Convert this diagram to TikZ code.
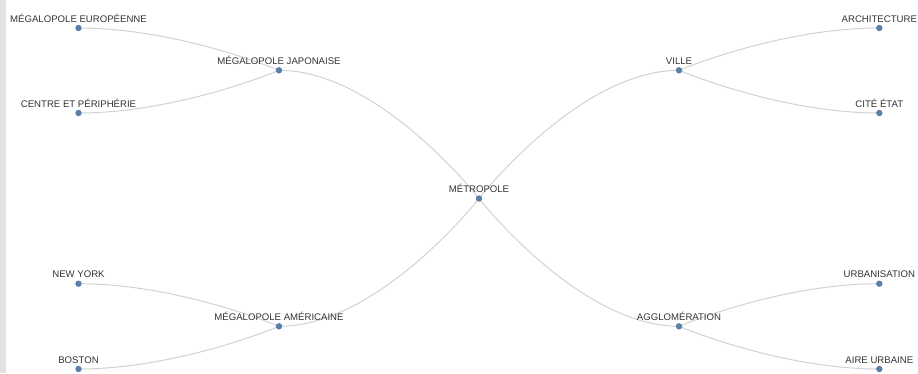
\documentclass[tikz,border=0pt]{standalone}
\usepackage{fontspec}
\setmainfont{Liberation Sans}
\usetikzlibrary{backgrounds}
\definecolor{dotc}{HTML}{5B7FA8}
\definecolor{linkc}{HTML}{D2D2D2}
\definecolor{txtc}{HTML}{333333}
\definecolor{barc}{HTML}{E2E2E2}
\begin{document}
\begin{tikzpicture}[x=1pt,y=-1pt,
  pdot/.style={circle,fill=dotc,inner sep=0pt,minimum size=6.4pt},
  lbl/.style={anchor=base,font=\fontsize{9.6}{11}\selectfont,text=txtc,inner sep=0pt},
  link/.style={draw=linkc,line width=1pt}]
\useasboundingbox (0,0) rectangle (918,373);
\fill[barc] (0,0) rectangle (6,373);
% dots
\node[pdot] (met) at (479,198.5) {};
\node[pdot] (jap) at (279,70.3) {};
\node[pdot] (ame) at (279,326.3) {};
\node[pdot] (vil) at (679,70.3) {};
\node[pdot] (agg) at (679,326.3) {};
\node[pdot] (eur) at (78.5,28) {};
\node[pdot] (cen) at (78.5,113) {};
\node[pdot] (ny) at (78.5,283.7) {};
\node[pdot] (bos) at (78.5,369) {};
\node[pdot] (arc) at (879.3,28) {};
\node[pdot] (cit) at (879.3,113) {};
\node[pdot] (urb) at (879.3,283.7) {};
\node[pdot] (air) at (879.3,369) {};
% labels
\node[lbl] (metL) at ([yshift=6pt]met.center) {MÉTROPOLE};
\node[lbl] (japL) at ([yshift=6pt]jap.center) {MÉGALOPOLE JAPONAISE};
\node[lbl] (ameL) at ([yshift=6pt]ame.center) {MÉGALOPOLE AMÉRICAINE};
\node[lbl] (vilL) at ([yshift=6pt]vil.center) {VILLE};
\node[lbl] (aggL) at ([yshift=6pt]agg.center) {AGGLOMÉRATION};
\node[lbl] (eurL) at ([yshift=6pt]eur.center) {MÉGALOPOLE EUROPÉENNE};
\node[lbl] (cenL) at ([yshift=6pt]cen.center) {CENTRE ET PÉRIPHÉRIE};
\node[lbl] (nyL) at ([yshift=6pt]ny.center) {NEW YORK};
\node[lbl] (bosL) at ([yshift=6pt]bos.center) {BOSTON};
\node[lbl] (arcL) at ([yshift=6pt]arc.center) {ARCHITECTURE};
\node[lbl] (citL) at ([yshift=6pt]cit.center) {CITÉ ÉTAT};
\node[lbl] (urbL) at ([yshift=6pt]urb.center) {URBANISATION};
\node[lbl] (airL) at ([yshift=6pt]air.center) {AIRE URBAINE};
% links
\begin{scope}[on background layer]
\draw[link] (jap.center) .. controls ([xshift=100pt]jap.center) and (met.center) .. (met.center);
\draw[link] (ame.center) .. controls ([xshift=100pt]ame.center) and (met.center) .. (met.center);
\draw[link] (vil.center) .. controls ([xshift=-100pt]vil.center) and (met.center) .. (met.center);
\draw[link] (agg.center) .. controls ([xshift=-100pt]agg.center) and (met.center) .. (met.center);
\draw[link] (eur.center) .. controls ([xshift=100pt]eur.center) and (jap.center) .. (jap.center);
\draw[link] (cen.center) .. controls ([xshift=100pt]cen.center) and (jap.center) .. (jap.center);
\draw[link] (ny.center) .. controls ([xshift=100pt]ny.center) and (ame.center) .. (ame.center);
\draw[link] (bos.center) .. controls ([xshift=100pt]bos.center) and (ame.center) .. (ame.center);
\draw[link] (arc.center) .. controls ([xshift=-100pt]arc.center) and (vil.center) .. (vil.center);
\draw[link] (cit.center) .. controls ([xshift=-100pt]cit.center) and (vil.center) .. (vil.center);
\draw[link] (urb.center) .. controls ([xshift=-100pt]urb.center) and (agg.center) .. (agg.center);
\draw[link] (air.center) .. controls ([xshift=-100pt]air.center) and (agg.center) .. (agg.center);
\end{scope}
\end{tikzpicture}
\end{document}
